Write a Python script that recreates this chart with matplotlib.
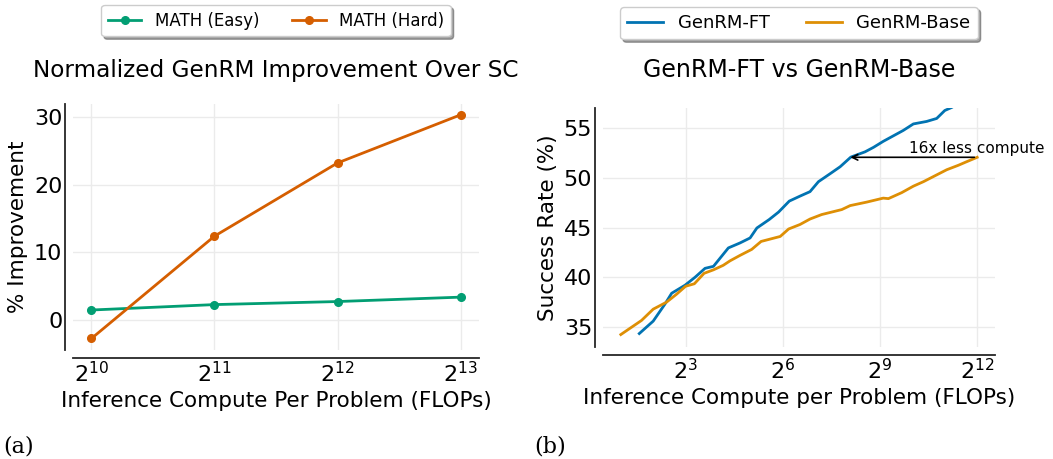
import numpy as np
import matplotlib
matplotlib.use("Agg")
import matplotlib.pyplot as plt
from matplotlib.ticker import FixedLocator, NullLocator

# ---------------- data ----------------
# panel (a)
compute_a = [2**10, 2**11, 2**12, 2**13]
math_easy = [1.5, 2.3, 2.75, 3.4]
math_hard = [-2.7, 12.4, 23.2, 30.3]

# panel (b): compute given as log2 exponents
ft_log2 = [1.57, 2.0, 2.36, 2.57, 2.98, 3.29, 3.6, 3.86, 4.32, 4.68, 4.99, 5.2,
           5.58, 5.87, 6.2, 6.53, 6.84, 7.1, 7.46, 7.77, 8.1, 8.54, 8.8, 9.1,
           9.41, 9.72, 10.03, 10.44, 10.75, 11.0, 11.21, 11.5]
ft_rate = [34.35, 35.6, 37.3, 38.4, 39.2, 40.0, 40.9, 41.1, 42.95, 43.45, 43.95,
           44.95, 45.8, 46.55, 47.65, 48.15, 48.6, 49.6, 50.4, 51.1, 52.07, 52.6,
           53.05, 53.65, 54.2, 54.75, 55.4, 55.65, 55.95, 56.75, 57.05, 57.6]
base_log2 = [1.0, 1.64, 2.0, 2.41, 2.72, 3.0, 3.27, 3.57, 3.86, 4.16, 4.37, 4.68,
             5.04, 5.33, 5.92, 6.18, 6.53, 6.84, 7.2, 7.82, 8.08, 8.59, 9.1, 9.26,
             9.67, 10.03, 10.34, 10.7, 11.06, 11.42, 11.67, 12.0]
base_rate = [34.25, 35.67, 36.8, 37.5, 38.3, 39.1, 39.35, 40.4, 40.75, 41.2, 41.65,
             42.2, 42.8, 43.6, 44.1, 44.85, 45.3, 45.85, 46.3, 46.8, 47.2, 47.55,
             47.95, 47.9, 48.5, 49.15, 49.6, 50.2, 50.8, 51.25, 51.6, 52.05]

xticks_a = [2**10, 2**11, 2**12, 2**13]
xticklabels_a = [r"$2^{10}$", r"$2^{11}$", r"$2^{12}$", r"$2^{13}$"]
yticks_a = [0, 10, 20, 30]
xticks_b = [2**3, 2**6, 2**9, 2**12]
xticklabels_b = [r"$2^{3}$", r"$2^{6}$", r"$2^{9}$", r"$2^{12}$"]
yticks_b = [35, 40, 45, 50, 55]

GREEN = "#029E73"
RED = "#D55E00"
BLUE = "#0173B2"
ORANGE = "#DE8F05"
SPINE = "#262626"
GRID = "#EBEBEB"

plt.rcParams["font.family"] = ["DejaVu Sans"]
plt.rcParams["mathtext.fontset"] = "dejavusans"

fig = plt.figure(figsize=(10.53, 4.59), dpi=100)
ax1 = fig.add_axes([73 / 1053, 1 - 350 / 459, 406 / 1053, 246 / 459])
ax2 = fig.add_axes([603 / 1053, 1 - 347 / 459, 392 / 1053, 239 / 459])


def style(ax):
    for s in ["top", "right"]:
        ax.spines[s].set_visible(False)
    for s in ["left", "bottom"]:
        ax.spines[s].set_position(("outward", 5.7))
        ax.spines[s].set_color(SPINE)
        ax.spines[s].set_linewidth(1.3)
    ax.grid(True, color=GRID, linewidth=1.0)
    ax.set_axisbelow(True)
    ax.tick_params(axis="both", length=0, labelsize=16, pad=2)
    ax.xaxis.set_minor_locator(NullLocator())


# ---------------- panel (a) ----------------
ax1.plot(compute_a, math_easy, color=GREEN, marker="o", lw=2, ms=5.5, label="MATH (Easy)")
ax1.plot(compute_a, math_hard, color=RED, marker="o", lw=2, ms=5.5, label="MATH (Hard)")
ax1.set_xscale("log", base=2)
ax1.set_xlim(2**9.85, 2**13.15)
ax1.set_ylim(-4.4, 31.9)
style(ax1)
ax1.xaxis.set_major_locator(FixedLocator(xticks_a))
ax1.set_xticklabels(xticklabels_a)
ax1.set_yticks(yticks_a)
ax1.set_xlabel("Inference Compute Per Problem (FLOPs)", fontsize=15.5)
ax1.set_ylabel("% Improvement", fontsize=15.5)
ax1.set_title("Normalized GenRM Improvement Over SC", fontsize=16.7, pad=19.5)
ax1.legend(loc="upper center", bbox_to_anchor=(0.5, 1.402), ncol=2, fontsize=12,
           shadow=True, frameon=True, borderaxespad=0)

# ---------------- panel (b) ----------------
ft_x = [2**e for e in ft_log2]
base_x = [2**e for e in base_log2]
ax2.plot(ft_x, ft_rate, color=BLUE, lw=2, label="GenRM-FT")
ax2.plot(base_x, base_rate, color=ORANGE, lw=2, label="GenRM-Base")
ax2.set_xscale("log", base=2)
ax2.set_xlim(2**0.45, 2**12.55)
ax2.set_ylim(33.0, 57.0)
style(ax2)
ax2.xaxis.set_major_locator(FixedLocator(xticks_b))
ax2.set_xticklabels(xticklabels_b)
ax2.set_yticks(yticks_b)
ax2.set_xlabel("Inference Compute per Problem (FLOPs)", fontsize=15.5)
ax2.set_ylabel("Success Rate (%)", fontsize=15.5)
ax2.set_title("GenRM-FT vs GenRM-Base", fontsize=17, pad=22.3)
ax2.legend(loc="upper center", bbox_to_anchor=(0.5, 1.4226), ncol=2, fontsize=13,
           shadow=True, frameon=True, borderaxespad=0)
ax2.annotate("", xy=(2**8, 52.05), xytext=(2**12, 52.05),
             arrowprops=dict(arrowstyle="->", color="black", lw=1.2))
ax2.text(2**12, 52.2, "16x less compute", ha="center", va="bottom", fontsize=11,
         clip_on=False)

fig.text(19 / 1053, 1 - 446 / 459, "(a)", family="DejaVu Serif", fontsize=16,
         ha="center", va="center")
fig.text(550 / 1053, 1 - 446 / 459, "(b)", family="DejaVu Serif", fontsize=16,
         ha="center", va="center")

fig.savefig("out.png", dpi=100)
